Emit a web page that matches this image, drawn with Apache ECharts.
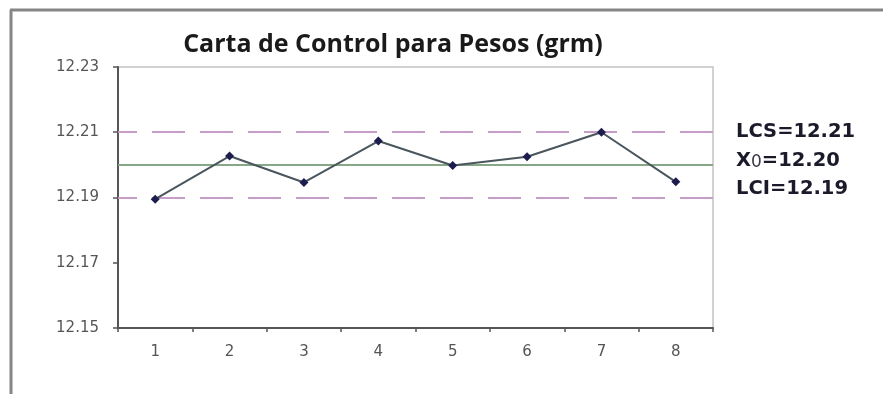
<!DOCTYPE html>
<html>
<head>
<meta charset="utf-8">
<script src="https://cdn.jsdelivr.net/npm/echarts@6/dist/echarts.min.js"></script>
<style>
  html, body { margin: 0; padding: 0; background: #fff; }
  #chart { width: 883px; height: 394px; }
</style>
</head>
<body>
<div id="chart"></div>
<script>
// Sample numbers and mean weights (grams)
const samples = ['1', '2', '3', '4', '5', '6', '7', '8'];
const weights = [12.1895, 12.2027, 12.1946, 12.2073, 12.1998, 12.2025, 12.2100, 12.1948];

// Control limits
const upperLimit = 12.21;   // LCS
const centerLine = 12.20;   // X0
const lowerLimit = 12.19;   // LCI

// Y-axis range and step
const yMin = 12.15;
const yMax = 12.23;
const yStep = 0.02;

const chart = echarts.init(document.getElementById('chart'));

const limitStyle = { color: '#c89cc8', width: 2, type: [33, 15], dashOffset: 14 };
const titleFont = '"Open Sans", "Liberation Sans", sans-serif';
const labelFont = '"DejaVu Sans", Verdana, sans-serif';
const ink = '#1a1a2a';

chart.setOption({
  animation: false,
  backgroundColor: '#ffffff',
  title: {
    text: 'Carta de Control para Pesos (grm)',
    left: 388,
    top: 27,
    textAlign: 'center',
    textStyle: { fontFamily: titleFont, fontSize: 25, fontWeight: 'bold', color: '#1a1a1a' }
  },
  grid: {
    left: 118, top: 67, right: 170, bottom: 66,
    show: true, borderColor: '#c4c4c4', borderWidth: 1.5, backgroundColor: 'transparent'
  },
  xAxis: {
    type: 'category',
    data: samples,
    boundaryGap: true,
    axisLine: { lineStyle: { color: '#555', width: 2 } },
    axisTick: { show: true, length: 4, lineStyle: { color: '#555', width: 1.5 } },
    axisLabel: { color: '#555', fontFamily: labelFont, fontSize: 15, margin: 17 },
    splitLine: { show: false }
  },
  yAxis: {
    type: 'value',
    min: yMin, max: yMax, interval: yStep,
    axisLine: { show: true, lineStyle: { color: '#555', width: 2 } },
    axisTick: { show: true, length: 5, lineStyle: { color: '#555', width: 1.5 } },
    axisLabel: {
      color: '#555', fontFamily: labelFont, fontSize: 15, margin: 19,
      formatter: v => v.toFixed(2)
    },
    splitLine: { show: false }
  },
  series: [{
    type: 'line',
    data: weights,
    symbol: 'diamond',
    symbolSize: 9,
    lineStyle: { color: '#4a565e', width: 2 },
    itemStyle: { color: '#1c1c4e' },
    z: 5,
    markLine: {
      silent: true,
      symbol: 'none',
      label: { show: false },
      data: [
        { yAxis: upperLimit, lineStyle: limitStyle },
        { yAxis: centerLine, lineStyle: { color: '#86a886', width: 2, type: 'solid' } },
        { yAxis: lowerLimit, lineStyle: limitStyle }
      ]
    }
  }],
  graphic: [
    // outer frame (left and top edges)
    { type: 'line', shape: { x1: 11, y1: 10, x2: 11, y2: 394 }, style: { stroke: '#858585', lineWidth: 3 } },
    { type: 'line', shape: { x1: 10, y1: 10, x2: 883, y2: 10 }, style: { stroke: '#858585', lineWidth: 3 } },
    // control-limit annotations
    {
      type: 'text', x: 736, y: 132,
      style: {
        text: 'LCS=' + upperLimit.toFixed(2),
        fontFamily: labelFont, fontSize: 19.5, fontWeight: 'bold', fill: ink,
        verticalAlign: 'middle'
      }
    },
    {
      type: 'text', x: 736, y: 161,
      style: {
        text: '{b|X}{s|0}{b|=' + centerLine.toFixed(2) + '}',
        verticalAlign: 'middle',
        rich: {
          b: { fontFamily: labelFont, fontSize: 19.5, fontWeight: 'bold', fill: ink },
          s: { fontFamily: labelFont, fontSize: 17, fontWeight: 'normal', fill: '#3a3a4a', padding: [3, 0, 0, 0] }
        }
      }
    },
    {
      type: 'text', x: 736, y: 189,
      style: {
        text: 'LCI=' + lowerLimit.toFixed(2),
        fontFamily: labelFont, fontSize: 19.5, fontWeight: 'bold', fill: ink,
        verticalAlign: 'middle'
      }
    }
  ]
});
</script>
</body>
</html>
